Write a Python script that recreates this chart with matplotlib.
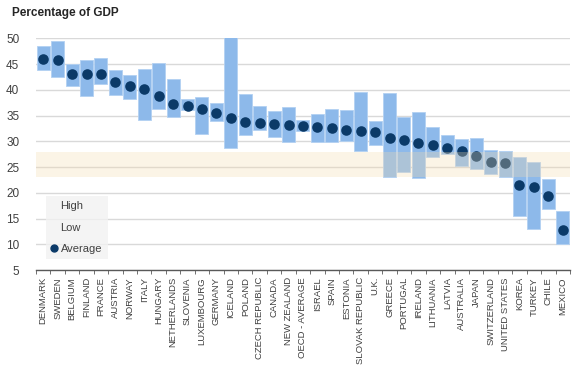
import matplotlib
matplotlib.use("Agg")
import matplotlib.pyplot as plt
from matplotlib.lines import Line2D
import numpy as np

# tax revenue as % of GDP
countries = ["DENMARK", "SWEDEN", "BELGIUM", "FINLAND", "FRANCE", "AUSTRIA",
             "NORWAY", "ITALY", "HUNGARY", "NETHERLANDS", "SLOVENIA",
             "LUXEMBOURG", "GERMANY", "ICELAND", "POLAND", "CZECH REPUBLIC",
             "CANADA", "NEW ZEALAND", "OECD - AVERAGE", "ISRAEL", "SPAIN",
             "ESTONIA", "SLOVAK REPUBLIC", "U.K.", "GREECE", "PORTUGAL",
             "IRELAND", "LITHUANIA", "LATVIA", "AUSTRALIA", "JAPAN",
             "SWITZERLAND", "UNITED STATES", "KOREA", "TURKEY", "CHILE",
             "MEXICO"]
high = [48.6, 49.5, 45.1, 45.8, 46.2, 43.8, 42.8, 44.0, 45.2, 42.1, 38.3,
        38.6, 37.5, 50.5, 39.1, 36.9, 35.9, 36.7, 34.1, 35.3, 36.2, 36.0,
        39.5, 33.9, 39.4, 34.7, 35.6, 32.7, 31.2, 30.5, 30.7, 28.4, 28.2,
        26.9, 25.9, 22.7, 16.5]
low = [43.8, 42.5, 40.8, 38.8, 41.2, 38.9, 38.2, 34.1, 36.2, 34.8, 36.0,
       31.5, 33.9, 28.7, 31.2, 32.2, 30.8, 29.9, 32.1, 29.9, 29.9, 30.0,
       28.2, 29.3, 23.0, 24.0, 22.8, 27.0, 27.5, 25.3, 24.6, 23.6, 23.1,
       15.5, 12.9, 16.9, 10.0]
average = [46.0, 45.7, 43.1, 43.0, 43.1, 41.5, 40.7, 40.1, 38.8, 37.3, 36.8,
           36.2, 35.5, 34.6, 33.8, 33.6, 33.4, 33.1, 33.0, 32.8, 32.5, 32.2,
           32.1, 31.9, 30.7, 30.3, 29.7, 29.2, 28.8, 28.1, 27.1, 26.0, 25.8,
           21.5, 21.1, 19.3, 12.7]
band = (23, 28)

plt.rcParams['font.family'] = ['Liberation Sans', 'DejaVu Sans']

fig = plt.figure(figsize=(5.76, 3.65), dpi=100)
ax = fig.add_axes([0.0625, 0.26, 0.927, 0.635])

x = np.arange(len(countries))
high_a = np.array(high)
low_a = np.array(low)

ax.bar(x, high_a - low_a, bottom=low_a, width=0.9, color='#8DB9EA',
       edgecolor='#B3D1F2', linewidth=0.6, zorder=2)
ax.scatter(x, average, s=58, color='#0B3A68', zorder=3, linewidths=0)

# shaded band drawn over the bars
ax.axhspan(band[0], band[1], color=(0.96, 0.86, 0.68), alpha=0.3, lw=0,
           zorder=4)

ax.set_ylim(5, 50)
ax.set_xlim(-0.5, len(countries) - 0.5)
ax.set_yticks(range(5, 51, 5))
ax.yaxis.grid(True, color='#D9D9D9', lw=1.0, zorder=0)
ax.set_axisbelow(True)

for s in ['top', 'right', 'left']:
    ax.spines[s].set_visible(False)
ax.spines['bottom'].set_color('#595959')
ax.spines['bottom'].set_linewidth(1.0)
ax.spines['bottom'].set_zorder(5)

ax.set_xticks(x)
ax.set_xticklabels(countries, rotation=90, fontsize=6.8, color='#404040')
ax.set_xticks(np.arange(-0.5, len(countries), 1), minor=True)
ax.tick_params(axis='x', which='major', length=0, pad=5)
ax.tick_params(axis='x', which='minor', length=3, color='#595959',
               direction='out')
ax.tick_params(axis='y', length=0, labelsize=8.5, labelcolor='#404040',
               pad=12)

handles = [Line2D([], [], linestyle='none', marker=None),
           Line2D([], [], linestyle='none', marker=None),
           Line2D([], [], linestyle='none', marker='o', markersize=5,
                  color='#0B3A68')]
leg = ax.legend(handles, ['High', 'Low', 'Average'], loc='upper left',
                bbox_to_anchor=(0.019, 0.32), fontsize=8, frameon=True,
                fancybox=False, handlelength=0.5, handletextpad=0.3,
                labelspacing=1.0, borderpad=0.5, borderaxespad=0,
                labelcolor='#404040')
leg.get_frame().set_facecolor('#F2F2F2')
leg.get_frame().set_edgecolor('none')
leg.set_zorder(6)

fig.text(0.021, 0.965, 'Percentage of GDP', fontsize=8.5, fontweight='bold',
         color='#262626', va='center', ha='left')

fig.savefig('out.png', dpi=100)
